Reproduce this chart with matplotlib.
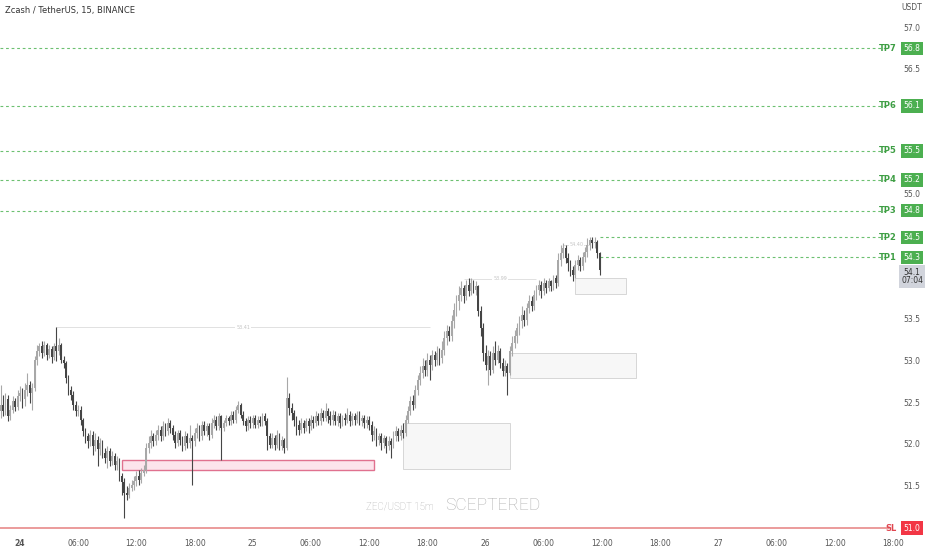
import numpy as np
import matplotlib.pyplot as plt
import matplotlib.transforms as mtransforms
from matplotlib.patches import Rectangle

# 15m candles, index 0 = 24th 00:00
first_bar = -8
closes = [
    52.48, 52.40, 52.55, 52.35, 52.42, 52.52, 52.45, 52.58,
    52.62, 52.55, 52.66, 52.72, 52.62, 52.68, 53.02, 53.12,
    53.18, 53.10, 53.20, 53.08, 53.15, 53.05, 53.18, 53.12,
    53.20, 53.02, 52.98, 52.80, 52.66, 52.60, 52.48, 52.40,
    52.42, 52.30, 52.16, 52.10, 52.04, 52.12, 51.98, 52.06,
    51.95, 52.02, 51.90, 51.84, 51.92, 51.80, 51.86, 51.76,
    51.80, 51.62, 51.55, 51.42, 51.40, 51.48, 51.52, 51.56,
    51.62, 51.58, 51.66, 51.70, 51.96, 52.02, 52.10, 52.04,
    52.12, 52.18, 52.10, 52.22, 52.16, 52.26, 52.20, 52.12,
    52.02, 52.14, 52.06, 51.98, 52.10, 52.02, 52.08, 52.04,
    52.14, 52.20, 52.10, 52.24, 52.16, 52.22, 52.12, 52.26,
    52.30, 52.22, 52.34, 52.20, 52.26, 52.32, 52.28, 52.36,
    52.30, 52.42, 52.48, 52.36, 52.28, 52.22, 52.30, 52.26,
    52.32, 52.24, 52.30, 52.26, 52.34, 52.28, 52.10, 52.00,
    52.08, 52.00, 52.12, 51.98, 52.06, 51.96, 52.56, 52.44,
    52.38, 52.30, 52.24, 52.18, 52.26, 52.20, 52.28, 52.22,
    52.30, 52.26, 52.34, 52.28, 52.38, 52.32, 52.40, 52.34,
    52.30, 52.36, 52.28, 52.34, 52.26, 52.32, 52.30, 52.36,
    52.28, 52.34, 52.30, 52.36, 52.28, 52.32, 52.26, 52.30,
    52.24, 52.12, 52.16, 52.06, 52.10, 52.02, 52.08, 51.98,
    52.04, 52.00, 52.10, 52.16, 52.10, 52.18, 52.14, 52.30,
    52.40, 52.52, 52.48, 52.66, 52.78, 52.86, 52.94, 52.90,
    53.02, 52.96, 53.08, 53.02, 53.10, 53.04, 53.14, 53.28,
    53.36, 53.30, 53.48, 53.62, 53.72, 53.80, 53.88, 53.78,
    53.92, 53.84, 53.94, 53.86, 53.90, 53.60, 53.40, 53.10,
    52.96, 53.06, 52.90, 53.10, 53.02, 53.12, 52.98, 52.88,
    52.94, 52.86, 53.12, 53.22, 53.30, 53.40, 53.48, 53.56,
    53.50, 53.64, 53.72, 53.66, 53.80, 53.86, 53.92, 53.84,
    53.94, 53.88, 53.96, 53.90, 54.00, 53.94, 54.22, 54.30,
    54.36, 54.24, 54.18, 54.10, 54.04, 54.16, 54.22, 54.14,
    54.26, 54.32, 54.40, 54.46, 54.42, 54.44, 54.30, 54.10,
]
highs = [
    52.72, 52.60, 52.62, 52.60, 52.48, 52.58, 52.56, 52.66,
    52.70, 52.68, 52.74, 52.86, 52.76, 52.74, 53.06, 53.20,
    53.22, 53.24, 53.24, 53.22, 53.20, 53.18, 53.22, 53.41,
    53.28, 53.22, 53.06, 53.00, 52.84, 52.70, 52.64, 52.52,
    52.48, 52.46, 52.32, 52.20, 52.14, 52.18, 52.16, 52.14,
    52.10, 52.08, 52.06, 51.96, 51.98, 51.96, 51.92, 51.90,
    51.86, 51.84, 51.66, 51.60, 51.50, 51.54, 51.58, 51.62,
    51.68, 51.70, 51.72, 51.76, 52.02, 52.10, 52.18, 52.14,
    52.18, 52.24, 52.22, 52.28, 52.26, 52.32, 52.30, 52.24,
    52.16, 52.18, 52.18, 52.10, 52.16, 52.14, 52.24, 52.12,
    52.20, 52.26, 52.24, 52.28, 52.28, 52.26, 52.26, 52.32,
    52.36, 52.34, 52.38, 52.36, 52.30, 52.36, 52.34, 52.40,
    52.40, 52.46, 52.52, 52.50, 52.40, 52.32, 52.34, 52.34,
    52.36, 52.36, 52.34, 52.34, 52.38, 52.38, 52.32, 52.14,
    52.14, 52.12, 52.18, 52.14, 52.10, 52.08, 52.81, 52.62,
    52.50, 52.42, 52.34, 52.30, 52.32, 52.30, 52.32, 52.32,
    52.36, 52.34, 52.40, 52.38, 52.44, 52.42, 52.50, 52.44,
    52.40, 52.42, 52.40, 52.38, 52.38, 52.36, 52.38, 52.44,
    52.40, 52.38, 52.38, 52.40, 52.40, 52.36, 52.36, 52.34,
    52.34, 52.28, 52.22, 52.20, 52.14, 52.14, 52.12, 52.10,
    52.10, 52.08, 52.16, 52.22, 52.20, 52.24, 52.26, 52.36,
    52.46, 52.58, 52.60, 52.72, 52.84, 52.94, 53.04, 53.02,
    53.10, 53.08, 53.14, 53.12, 53.18, 53.16, 53.24, 53.36,
    53.44, 53.42, 53.56, 53.70, 53.80, 53.90, 53.96, 53.92,
    53.98, 54.00, 54.00, 53.98, 53.96, 53.92, 53.66, 53.46,
    53.20, 53.14, 53.12, 53.18, 53.24, 53.20, 53.16, 53.04,
    53.02, 52.98, 53.18, 53.30, 53.38, 53.46, 53.54, 53.66,
    53.62, 53.70, 53.80, 53.78, 53.86, 53.92, 53.98, 53.96,
    54.00, 53.98, 54.00, 53.98, 54.04, 54.04, 54.30, 54.40,
    54.42, 54.40, 54.30, 54.22, 54.14, 54.22, 54.28, 54.26,
    54.32, 54.38, 54.48, 54.50, 54.50, 54.49, 54.46, 54.32,
]
lows = [
    52.32, 52.34, 52.36, 52.28, 52.30, 52.38, 52.40, 52.42,
    52.52, 52.44, 52.46, 52.58, 52.50, 52.42, 52.64, 52.96,
    53.06, 53.04, 53.06, 53.02, 53.04, 52.98, 53.02, 53.00,
    53.08, 52.98, 52.92, 52.74, 52.60, 52.54, 52.42, 52.34,
    52.34, 52.24, 52.10, 52.02, 51.96, 51.98, 51.88, 51.92,
    51.74, 51.88, 51.84, 51.78, 51.72, 51.74, 51.76, 51.70,
    51.70, 51.56, 51.40, 51.12, 51.34, 51.36, 51.44, 51.46,
    51.50, 51.52, 51.54, 51.62, 51.66, 51.90, 51.96, 51.98,
    52.00, 52.06, 52.04, 52.06, 52.10, 52.12, 52.14, 52.06,
    51.96, 51.98, 52.00, 51.92, 51.94, 51.96, 51.96, 51.52,
    51.98, 52.08, 52.04, 52.06, 52.12, 52.10, 52.06, 52.08,
    52.20, 52.18, 52.18, 51.82, 52.16, 52.22, 52.24, 52.24,
    52.26, 52.26, 52.38, 52.32, 52.24, 52.16, 52.18, 52.20,
    52.20, 52.20, 52.20, 52.22, 52.22, 52.24, 51.94, 51.96,
    51.96, 51.94, 51.96, 51.94, 51.94, 51.90, 51.94, 52.36,
    52.30, 52.22, 52.12, 52.12, 52.14, 52.14, 52.16, 52.14,
    52.18, 52.20, 52.22, 52.24, 52.24, 52.28, 52.28, 52.26,
    52.24, 52.24, 52.24, 52.22, 52.20, 52.22, 52.24, 52.26,
    52.22, 52.24, 52.24, 52.26, 52.24, 52.22, 52.20, 52.20,
    52.18, 52.04, 52.06, 51.98, 52.00, 51.94, 51.96, 51.90,
    51.94, 51.84, 51.96, 52.04, 52.04, 52.06, 52.08, 52.10,
    52.26, 52.36, 52.42, 52.44, 52.60, 52.72, 52.80, 52.82,
    52.82, 52.78, 52.90, 52.94, 52.96, 52.96, 52.98, 53.08,
    53.20, 53.24, 53.24, 53.40, 53.54, 53.62, 53.72, 53.70,
    53.74, 53.78, 53.80, 53.82, 53.80, 53.54, 53.30, 53.00,
    52.90, 52.72, 52.84, 52.86, 52.96, 52.98, 52.92, 52.82,
    52.82, 52.60, 52.84, 53.06, 53.16, 53.22, 53.32, 53.40,
    53.42, 53.44, 53.58, 53.60, 53.62, 53.74, 53.80, 53.76,
    53.80, 53.82, 53.84, 53.84, 53.86, 53.88, 53.90, 54.14,
    54.24, 54.18, 54.08, 54.02, 53.96, 54.00, 54.10, 54.08,
    54.10, 54.20, 54.26, 54.34, 54.36, 54.36, 54.24, 54.04,
]

tp_names = ['TP1', 'TP2', 'TP3', 'TP4', 'TP5', 'TP6', 'TP7']
tp_levels = [54.25, 54.49, 54.81, 55.18, 55.53, 56.07, 56.76]
tp_labels = ['54.3', '54.5', '54.8', '55.2', '55.5', '56.1', '56.8']
sl_level = 51.0
sl_label = '51.0'
last_price_label = '54.1\n07:04'

# swing high levels: (price, start bar, end bar)
swing_levels = [(53.41, 15, 169), (53.99, 183, 213), (54.40, 224, 235)]

# zones: (start bar, end bar, low, high)
pink_zone = (42, 146, 51.70, 51.82)
gray_zones = [(158, 202, 51.71, 52.26), (202, 254, 52.80, 53.10), (229, 250, 53.81, 54.00)]

# price scale labels not hidden behind the level boxes
price_ticks = [51.5, 52.0, 52.5, 53.0, 53.5, 55.0, 56.5, 57.0]
time_ticks = np.arange(0, 361, 24)
time_labels = ['24', '06:00', '12:00', '18:00', '25', '06:00', '12:00', '18:00',
               '26', '06:00', '12:00', '18:00', '27', '06:00', '12:00', '18:00']

closes = np.array(closes)
opens = np.concatenate([[52.40], closes[:-1]])
highs = np.maximum(np.array(highs), np.maximum(opens, closes))
lows = np.minimum(np.array(lows), np.minimum(opens, closes))
bars = np.arange(first_bar, first_bar + len(closes))

W, H = 932, 550
fig = plt.figure(figsize=(W / 100, H / 100), dpi=100)
ax = fig.add_axes([0, 17 / H, 898 / W, 533 / H])
ax.set_xlim(-8.25, 362.1)
ax.set_ylim(50.94, 57.34)
for s in ax.spines.values():
    s.set_visible(False)
ax.set_yticks([])

up_col = '#a8a8a8'
dn_col = '#454545'
colors = np.where(closes >= opens, up_col, dn_col)
ax.vlines(bars, lows, highs, colors=colors, linewidth=0.8, zorder=3)
body = np.maximum(np.abs(closes - opens), 0.015)
ax.bar(bars, body, bottom=np.minimum(opens, closes), width=0.75, color=colors,
       linewidth=0, zorder=3)

# zones
s, e, lo, hi = pink_zone
ax.add_patch(Rectangle((s, lo), e - s, hi - lo, facecolor='#fce4ec', edgecolor='#e0718f',
                       linewidth=1.0, zorder=2))
for s, e, lo, hi in gray_zones:
    ax.add_patch(Rectangle((s, lo), e - s, hi - lo, facecolor='#f7f7f7', edgecolor='#d6d6d6',
                           linewidth=0.7, zorder=2))

# swing levels
for p, s, e in swing_levels:
    ax.hlines(p, s, e, color='#dcdcdc', linewidth=0.6, zorder=1)
    ax.text((s + e) / 2, p, f'{p:.2f}', fontsize=3.5, color='#c4c4c4', ha='center',
            va='center', zorder=2, bbox=dict(facecolor='white', edgecolor='none', pad=0.6))

green = '#4caf50'
for k, (name, lvl) in enumerate(zip(tp_names, tp_levels)):
    start = 239 if k < 2 else -8.25
    ax.hlines(lvl, start, 358.5, color='#6cc070', linewidth=0.8, linestyles=(0, (2.5, 2.5)), zorder=1)
    ax.text(361.5, lvl, name, fontsize=6, color='#3e9e44', fontweight='bold', ha='right', va='center')

ax.hlines(sl_level, -8.25, 358.5, color='#e88a8a', linewidth=1.2, zorder=1)
ax.text(361.5, sl_level, 'SL', fontsize=6, color='#e0454f', fontweight='bold', ha='right', va='center')

# right price scale
trans = mtransforms.blended_transform_factory(fig.transFigure, ax.transData)
xr = 912 / W
for p in price_ticks:
    ax.text(xr, p, f'{p:.1f}', transform=trans, fontsize=5.5, color='#555555',
            ha='center', va='center', clip_on=False)
for lvl, lab in zip(tp_levels, tp_labels):
    ax.text(xr, lvl, lab, transform=trans, fontsize=5.5, color='white', ha='center',
            va='center', clip_on=False, zorder=5,
            bbox=dict(boxstyle='square,pad=0.3', facecolor=green, edgecolor='none'))
ax.text(xr, sl_level, sl_label, transform=trans, fontsize=5.5, color='white', ha='center',
        va='center', clip_on=False, zorder=5,
        bbox=dict(boxstyle='square,pad=0.3', facecolor='#f23645', edgecolor='none'))
ax.text(xr, 54.02, last_price_label, transform=trans, fontsize=5.5, color='#333333',
        ha='center', va='center', clip_on=False, zorder=5, linespacing=0.95,
        bbox=dict(boxstyle='square,pad=0.3', facecolor='#d1d4dc', edgecolor='none'))
fig.text(xr, 1 - 8 / H, 'USDT', fontsize=5.5, color='#555555', ha='center', va='center')

# time axis
ax.set_xticks(time_ticks)
ax.set_xticklabels(time_labels, fontsize=5.5, color='#555555')
ax.tick_params(axis='x', length=0, pad=4)
ax.get_xticklabels()[0].set_fontweight('bold')

fig.text(5 / W, 1 - 10 / H, 'Zcash / TetherUS, 15, BINANCE', fontsize=6, color='#333333',
         ha='left', va='center')

# watermark
wm_font = ['Roboto', 'DejaVu Sans']
fig.text(366 / W, 1 - 507 / H, 'ZEC/USDT 15m', fontsize=7, color='#adadad', ha='left',
         va='center', family=wm_font, fontweight='light')
fig.text(445 / W, 1 - 506 / H, 'SCEPTERED', fontsize=12.5, color='#adadad', ha='left',
         va='center', family=wm_font, fontweight='light')

fig.savefig('out.png', dpi=100, facecolor='white')
